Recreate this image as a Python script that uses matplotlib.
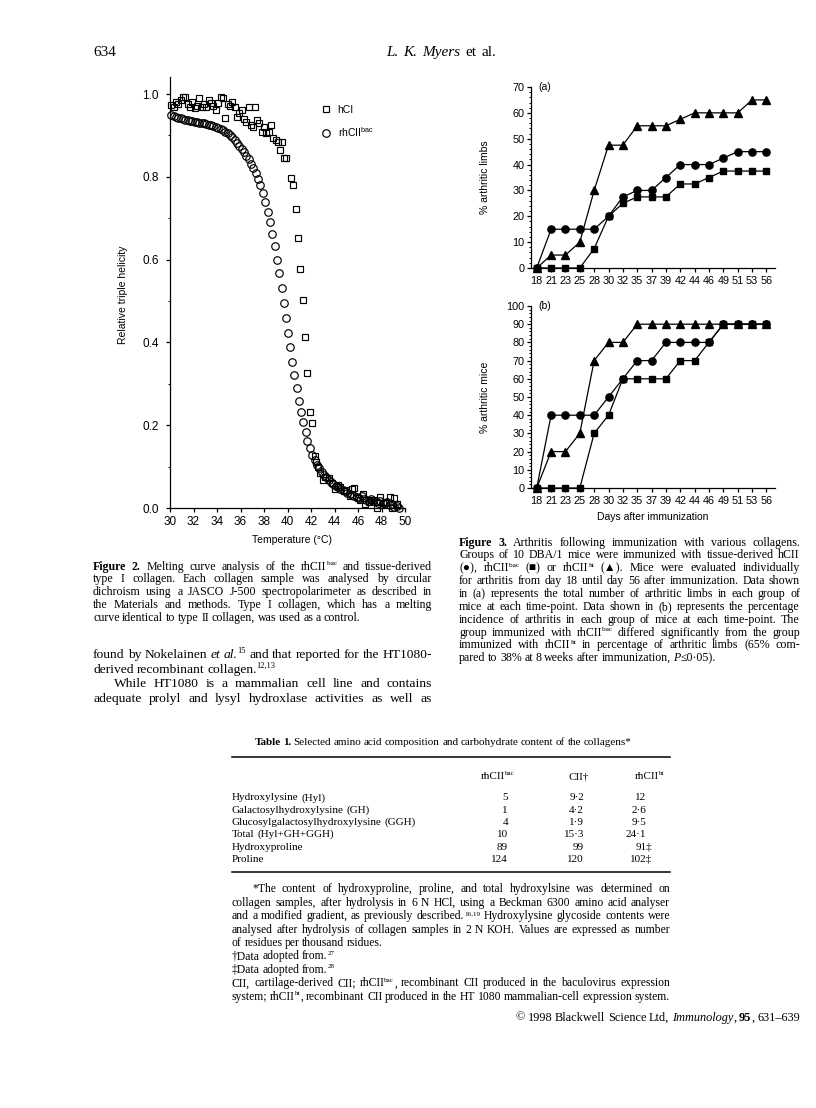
import re
import matplotlib
matplotlib.use('Agg')
import matplotlib.pyplot as plt
from matplotlib.ticker import MultipleLocator, FixedLocator
from matplotlib.lines import Line2D

# ---------------- data ----------------
# Figure 2: melting curves
temp_hci = [30.1, 30.3, 30.5, 30.7, 30.9, 31.1, 31.3, 31.5, 31.7, 31.9, 32.1, 32.3, 32.5, 32.7,
            32.9, 33.1, 33.3, 33.5, 33.7, 33.9, 34.1, 34.3, 34.5, 34.7, 34.9, 35.1, 35.3, 35.5,
            35.7, 35.9, 36.1, 36.3, 36.5, 36.7, 36.9, 37.1, 37.2, 37.4, 37.6, 37.8, 38.0, 38.2,
            38.4, 38.6, 38.8, 39.0, 39.2, 39.4, 39.5, 39.7, 39.9, 40.3, 40.45, 40.7, 40.9, 41.1,
            41.3, 41.5, 41.7, 41.9, 42.1, 42.3, 42.45, 42.6, 42.8, 43.0, 43.2, 43.5, 43.8, 44.0,
            44.3, 44.5, 44.8, 45.0, 45.3, 45.5, 45.7, 46.0, 46.2, 46.4, 46.6, 46.9, 47.1, 47.4,
            47.6, 47.9, 48.1, 48.4, 48.7, 48.9, 49.1, 49.3]
helix_hci = [0.973, 0.968, 0.980, 0.977, 0.985, 0.993, 0.993, 0.975, 0.969, 0.980, 0.966, 0.970,
             0.990, 0.968, 0.975, 0.969, 0.985, 0.979, 0.970, 0.961, 0.978, 0.993, 0.990, 0.941,
             0.975, 0.972, 0.981, 0.968, 0.945, 0.955, 0.961, 0.940, 0.933, 0.969, 0.925, 0.921,
             0.969, 0.937, 0.930, 0.909, 0.920, 0.905, 0.909, 0.925, 0.893, 0.888, 0.885, 0.865,
             0.885, 0.845, 0.845, 0.796, 0.780, 0.722, 0.651, 0.577, 0.502, 0.414, 0.325, 0.233,
             0.205, 0.126, 0.112, 0.100, 0.085, 0.068, 0.075, 0.072, 0.060, 0.045, 0.055, 0.051,
             0.040, 0.043, 0.030, 0.045, 0.048, 0.025, 0.020, 0.035, 0.010, 0.015, 0.020, 0.019,
             0.000, 0.027, 0.012, 0.015, 0.027, 0.000, 0.023, 0.010]

temp_bac = [30.1, 30.3, 30.5, 30.7, 30.9, 31.1, 31.3, 31.5, 31.7, 31.9, 32.1, 32.3, 32.5, 32.7,
            32.9, 33.1, 33.3, 33.5, 33.7, 33.9, 34.1, 34.3, 34.5, 34.7, 34.9, 35.1, 35.3, 35.5,
            35.7, 35.9, 36.1, 36.3, 36.5, 36.7, 36.9, 37.1, 37.3, 37.5, 37.7, 37.9, 38.1, 38.3,
            38.5, 38.7, 38.9, 39.1, 39.3, 39.5, 39.7, 39.85, 40.0, 40.2, 40.35, 40.55, 40.8, 41.0,
            41.15, 41.35, 41.55, 41.7, 41.9, 42.1, 42.3, 42.5, 42.7, 42.9, 43.1, 43.3, 43.5, 43.7,
            43.9, 44.1, 44.3, 44.5, 44.7, 44.9, 45.1, 45.3, 45.5, 45.7, 45.9, 46.1, 46.3, 46.5,
            46.7, 46.9, 47.1, 47.3, 47.5, 47.7, 47.9, 48.1, 48.3, 48.5, 48.7, 48.9, 49.1, 49.3, 49.5]
helix_bac = [0.950, 0.948, 0.945, 0.943, 0.941, 0.939, 0.937, 0.936, 0.935, 0.934, 0.933, 0.932,
             0.931, 0.930, 0.929, 0.927, 0.925, 0.924, 0.922, 0.920, 0.918, 0.916, 0.913, 0.909,
             0.905, 0.900, 0.895, 0.889, 0.882, 0.875, 0.868, 0.860, 0.851, 0.842, 0.832, 0.821,
             0.808, 0.795, 0.779, 0.761, 0.740, 0.716, 0.690, 0.663, 0.634, 0.600, 0.567, 0.531,
             0.494, 0.458, 0.422, 0.390, 0.352, 0.321, 0.291, 0.259, 0.233, 0.207, 0.183, 0.163,
             0.144, 0.128, 0.115, 0.105, 0.096, 0.088, 0.080, 0.074, 0.068, 0.063, 0.058, 0.054,
             0.050, 0.046, 0.043, 0.040, 0.037, 0.034, 0.031, 0.029, 0.026, 0.024, 0.028, 0.021,
             0.020, 0.016, 0.022, 0.017, 0.016, 0.012, 0.018, 0.012, 0.011, 0.014, 0.007, 0.010,
             0.003, 0.006, 0.000]

# Figure 3: arthritis time course
days = ['18', '21', '23', '25', '28', '30', '32', '35', '37', '39', '42', '44', '46', '49', '51', '53', '56']
limbs_hcii = [0, 15, 15, 15, 15, 20, 27.5, 30, 30, 35, 40, 40, 40, 42.5, 45, 45, 45]
limbs_bac = [0, 0, 0, 0, 7.5, 20, 25, 27.5, 27.5, 27.5, 32.5, 32.5, 35, 37.5, 37.5, 37.5, 37.5]
limbs_ht = [0, 5, 5, 10, 30, 47.5, 47.5, 55, 55, 55, 57.5, 60, 60, 60, 60, 65, 65]
mice_hcii = [0, 40, 40, 40, 40, 50, 60, 70, 70, 80, 80, 80, 80, 90, 90, 90, 90]
mice_bac = [0, 0, 0, 0, 30, 40, 60, 60, 60, 60, 70, 70, 80, 90, 90, 90, 90]
mice_ht = [0, 20, 20, 30, 70, 80, 80, 90, 90, 90, 90, 90, 90, 90, 90, 90, 90]

# Table 1
table_rows = ['Hydroxylysine (Hyl)', 'Galactosylhydroxylysine (GH)',
              'Glucosylgalactosylhydroxylysine (GGH)', 'Total (Hyl+GH+GGH)',
              'Hydroxyproline', 'Proline']
col_bac = ['5', '1', '4', '10', '89', '124']
col_cii = ['9\u00b72', '4\u00b72', '1\u00b79', '15\u00b73', '99', '120']
col_ht = ['12', '2\u00b76', '9\u00b75', '24\u00b71', '91\u2021', '102\u2021']

# ---------------- figure ----------------
W, H = 816, 1108
plt.rcParams['mathtext.fontset'] = 'custom'
plt.rcParams['mathtext.rm'] = 'Liberation Sans'
plt.rcParams['mathtext.it'] = 'Liberation Sans:italic'
plt.rcParams['font.family'] = ['Liberation Sans', 'DejaVu Sans']
fig = plt.figure(figsize=(W / 100, H / 100), dpi=100)
fig.patch.set_facecolor('white')
renderer = fig.canvas.get_renderer()
SANS = ['Liberation Sans', 'DejaVu Sans']
SERIF = ['Liberation Serif', 'DejaVu Serif']


def ax_at(l, t, r, b):
    return fig.add_axes([l / W, 1 - b / H, (r - l) / W, (b - t) / H])


def fx(x):
    return x / W


def fy(y):
    return 1 - y / H


def style_axis(ax, fs):
    for s in ('top', 'right'):
        ax.spines[s].set_visible(False)
    for s in ('left', 'bottom'):
        ax.spines[s].set_linewidth(0.9)
    ax.tick_params(direction='out', length=3.2, width=0.9, labelsize=fs, colors='black')
    ax.tick_params(which='minor', direction='out', length=1.8, width=0.7)
    ax.set_facecolor('none')


# ---- Figure 2 ----
ax2 = ax_at(170, 508 - 1.04 * 414, 405, 508)
ax2.plot(temp_hci, helix_hci, ls='none', marker='s', mfc='none', mec='black', ms=5.0,
         mew=0.85, clip_on=False, label='hCI')
ax2.plot(temp_bac, helix_bac, ls='none', marker='o', mfc='none', mec='black', ms=5.4,
         mew=0.85, clip_on=False, label='rhCII$^{\\rm bac}$')
ax2.set_xlim(30, 50)
ax2.set_ylim(0, 1.04)
ax2.xaxis.set_major_locator(MultipleLocator(2))
ax2.yaxis.set_major_locator(FixedLocator([0, 0.2, 0.4, 0.6, 0.8, 1.0]))
ax2.yaxis.set_minor_locator(FixedLocator([0.1, 0.3, 0.5, 0.7, 0.9]))
ax2.yaxis.set_major_formatter(plt.FuncFormatter(lambda v, p: f'{v:.1f}'))
style_axis(ax2, 8.5)
ax2.tick_params(axis='y', pad=5)
ax2.tick_params(axis='x', pad=2.5)
ax2.legend(loc='upper left', bbox_to_anchor=((321 - 170) / 235, (508 - 105) / (1.04 * 414)),
           frameon=False, fontsize=7.5, handlelength=1.0, handletextpad=0.6,
           labelspacing=0.95, borderpad=0, borderaxespad=0)
fig.text(fx(123), fy(295), 'Relative triple helicity', rotation=90, ha='center', va='center',
         fontsize=7.5, family=SANS)
fig.text(fx(292), fy(540), 'Temperature (\u00b0C)', ha='center', va='center', fontsize=7.5,
         family=SANS)

# ---- Figure 3 ----
xi = list(range(len(days)))


def fig3_panel(top, bottom, ymax, hc, bac, ht, ylabel, tag):
    ax = ax_at(531, top, 775, bottom)
    ax.plot(xi, hc, '-', color='black', lw=0.9, marker='o', ms=5.2, clip_on=False, zorder=3)
    ax.plot(xi, bac, '-', color='black', lw=0.9, marker='s', ms=5.0, clip_on=False, zorder=3)
    ax.plot(xi, ht, '-', color='black', lw=0.9, marker='^', ms=5.4, clip_on=False, zorder=3)
    ax.set_xlim(-0.4, 16.6)
    ax.set_ylim(0, ymax)
    ax.set_xticks(xi)
    ax.set_xticklabels(days)
    ax.yaxis.set_major_locator(MultipleLocator(10))
    ax.yaxis.set_minor_locator(MultipleLocator(2))
    style_axis(ax, 7.8)
    ax.tick_params(axis='y', pad=1.5)
    ax.tick_params(axis='x', pad=2.5)
    ax.text(0.03, 1.0, tag, transform=ax.transAxes, ha='left', va='center', fontsize=7.5,
            family=SANS)
    mid = (top + bottom) / 2
    fig.text(fx(485), fy(mid), ylabel, rotation=90, ha='center', va='center', fontsize=7.5,
             family=SANS)
    return ax


fig3_panel(87, 268, 70, limbs_hcii, limbs_bac, limbs_ht, '% arthritic limbs', '(a)')
fig3_panel(306, 488, 100, mice_hcii, mice_bac, mice_ht, '% arthritic mice', '(b)')
fig.text(fx(653), fy(517), 'Days after immunization', ha='center', va='center', fontsize=7.5,
         family=SANS)

# ---------------- text helpers ----------------
_wcache = {}
TOKRE = re.compile(r'<b>(.*?)</b>|<i>(.*?)</i>|<s>(.*?)</s>|([^<]+)')


def props(kind, size):
    d = dict(family=SERIF, fontsize=size, color='black')
    if kind == 'b':
        d['fontweight'] = 'bold'
    if kind == 'i':
        d['fontstyle'] = 'italic'
    if kind == 's':
        d['fontsize'] = size * 0.62
    return d


def part_width(s, kind, size):
    key = (s, kind, round(size, 3))
    if key not in _wcache:
        t = fig.text(0, 0, s, **props(kind, size))
        _wcache[key] = t.get_window_extent(renderer).width
        t.remove()
    return _wcache[key]


def parse(word):
    parts = []
    for m in TOKRE.finditer(word):
        b, i, s, n = m.groups()
        if b is not None:
            parts.append((b, 'b'))
        elif i is not None:
            parts.append((i, 'i'))
        elif s is not None:
            parts.append((s, 's'))
        else:
            parts.append((n, 'n'))
    return parts


def words_width(text, size):
    return [sum(part_width(p, k, size) for p, k in parse(w)) for w in text.split(' ')]


def draw_line(text, x0, x1, y, size, mode, spacing=0.22):
    words = text.split(' ')
    parsed = [parse(w) for w in words]
    widths = [sum(part_width(p, k, size) for p, k in ps) for ps in parsed]
    px = size * 100 / 72
    sp = spacing * px
    total = sum(widths)
    if mode == 'justify' and len(words) > 1:
        gap = (x1 - x0 - total) / (len(words) - 1)
        x = x0
    else:
        gap = sp
        full = total + sp * (len(words) - 1)
        if mode == 'left':
            x = x0
        elif mode == 'right':
            x = x1 - full
        else:
            x = (x0 + x1) / 2 - full / 2
    base = y + 0.3 * px
    for ps, w in zip(parsed, widths):
        xx = x
        for p, k in ps:
            yy = base - (0.38 * px if k == 's' else 0)
            fig.text(fx(xx), fy(yy), p, ha='left', va='baseline', **props(k, size))
            xx += part_width(p, k, size)
        x += w + gap


def fit_size(lines, x0, x1, ref=10.0, spacing=0.25):
    size = 100.0
    px = ref * 100 / 72
    for text, mode, ind in lines:
        if mode != 'justify':
            continue
        ws = words_width(text, ref)
        natural = sum(ws) + spacing * px * (len(ws) - 1)
        size = min(size, ref * (x1 - x0 - ind) / natural)
    return size


def block(lines, x0, x1, y0, dy, size):
    for j, (text, mode, ind) in enumerate(lines):
        draw_line(text, x0 + ind, x1, y0 + j * dy, size, mode)


# ---- header ----
draw_line('634', 93, 140, 51, 11.0, 'left')
draw_line('<i>L.</i> <i>K.</i> <i>Myers</i> et al.', 386, 496, 51, 11.0, 'justify')

# ---- captions ----
LX0, LX1 = 93, 432
RX0, RX1 = 459, 800
cap2 = [
    ('<b>Figure</b> <b>2.</b> Melting curve analysis of the rhCII<s>bac</s> and tissue-derived', 'justify', 0),
    ('type I collagen. Each collagen sample was analysed by circular', 'justify', 0),
    ('dichroism using a JASCO J-500 spectropolarimeter as described in', 'justify', 0),
    ('the Materials and methods. Type I collagen, which has a melting', 'justify', 0),
    ('curve identical to type II collagen, was used as a control.', 'left', 0),
]
cap3 = [
    ('<b>Figure</b> <b>3.</b> Arthritis following immunization with various collagens.', 'justify', 0),
    ('Groups of 10 DBA/1 mice were immunized with tissue-derived hCII', 'justify', 0),
    ('(\u25cf), rhCII<s>bac</s> (\u25a0) or rhCII<s>ht</s> (\u25b2). Mice were evaluated individually', 'justify', 0),
    ('for arthritis from day 18 until day 56 after immunization. Data shown', 'justify', 0),
    ('in (a) represents the total number of arthritic limbs in each group of', 'justify', 0),
    ('mice at each time-point. Data shown in (b) represents the percentage', 'justify', 0),
    ('incidence of arthritis in each group of mice at each time-point. The', 'justify', 0),
    ('group immunized with rhCII<s>bac</s> differed significantly from the group', 'justify', 0),
    ('immunized with rhCII<s>ht</s> in percentage of arthritic limbs (65% com-', 'justify', 0),
    ('pared to 38% at 8 weeks after immunization, <i>P</i>\u22640\u00b705).', 'left', 0),
]
cap_size = min(fit_size(cap2, LX0, LX1), fit_size(cap3, RX0, RX1), 8.6)
block(cap2, LX0, LX1, 566, 12.8, cap_size)
block(cap3, RX0, RX1, 542, 12.85, cap_size)

# ---- body text ----
body = [
    ('found by Nokelainen <i>et</i> <i>al.</i><s>15</s> and that reported for the HT1080-', 'justify', 0),
    ('derived recombinant collagen.<s>12,13</s>', 'left', 0),
    ('While HT1080 is a mammalian cell line and contains', 'justify', 21),
    ('adequate prolyl and lysyl hydroxlase activities as well as', 'justify', 0),
]
body_size = min(fit_size(body, LX0, LX1), 10.0)
block(body, LX0, LX1, 654, 14.6, body_size)

# ---- Table 1 ----
TX0, TX1 = 232, 670
draw_line('<b>Table</b> <b>1.</b> Selected amino acid composition and carbohydrate content of the collagens*',
          TX0, 654, 742, 8.0, 'center')


def hrule(x0, x1, y, lw):
    fig.add_artist(Line2D([fx(x0), fx(x1)], [fy(y), fy(y)], transform=fig.transFigure,
                          color='black', lw=lw))


hrule(TX0, TX1, 757, 1.1)
draw_line('rhCII<s>bac</s>', 470, 526, 776, 8.0, 'center')
draw_line('CII\u2020', 551, 607, 776, 8.0, 'center')
draw_line('rhCII<s>ht</s>', 622, 678, 776, 8.0, 'center')
row_y0, row_dy = 797, 12.3
for j, lab in enumerate(table_rows):
    yy = row_y0 + j * row_dy
    draw_line(lab, TX0, 460, yy, 8.0, 'left')
    draw_line(col_bac[j], 460, 508, yy, 8.0, 'right')
    draw_line(col_cii[j], 540, 584, yy, 8.0, 'right')
    draw_line(col_ht[j], 600, 652 if col_ht[j].endswith('\u2021') else 646, yy, 8.0, 'right')
hrule(TX0, TX1, 872, 1.1)

# ---- footnotes ----
notes = [
    ('*The content of hydroxyproline, proline, and total hydroxylsine was determined on', 'justify', 20),
    ('collagen samples, after hydrolysis in 6 N HCl, using a Beckman 6300 amino acid analyser', 'justify', 0),
    ('and a modified gradient, as previously described.<s>16,19</s> Hydroxylysine glycoside contents were', 'justify', 0),
    ('analysed after hydrolysis of collagen samples in 2 N KOH. Values are expressed as number', 'justify', 0),
    ('of residues per thousand rsidues.', 'left', 0),
    ('\u2020Data adopted from.<s>27</s>', 'left', 0),
    ('\u2021Data adopted from.<s>28</s>', 'left', 0),
    ('CII, cartilage-derived CII; rhCII<s>bac</s>, recombinant CII produced in the baculovirus expression', 'justify', 0),
    ('system; rhCII<s>ht</s>, recombinant CII produced in the HT 1080 mammalian-cell expression system.', 'justify', 0),
]
note_size = min(fit_size(notes, TX0, TX1), 8.4)
block(notes, TX0, TX1, 889, 13.4, note_size)

# ---- footer ----
draw_line('\u00a9 1998 Blackwell Science Ltd, <i>Immunology</i>, <b>95</b>, 631\u2013639', 450, 800, 1017, 8.8, 'right')

fig.savefig('out.png', dpi=100, facecolor='white')
